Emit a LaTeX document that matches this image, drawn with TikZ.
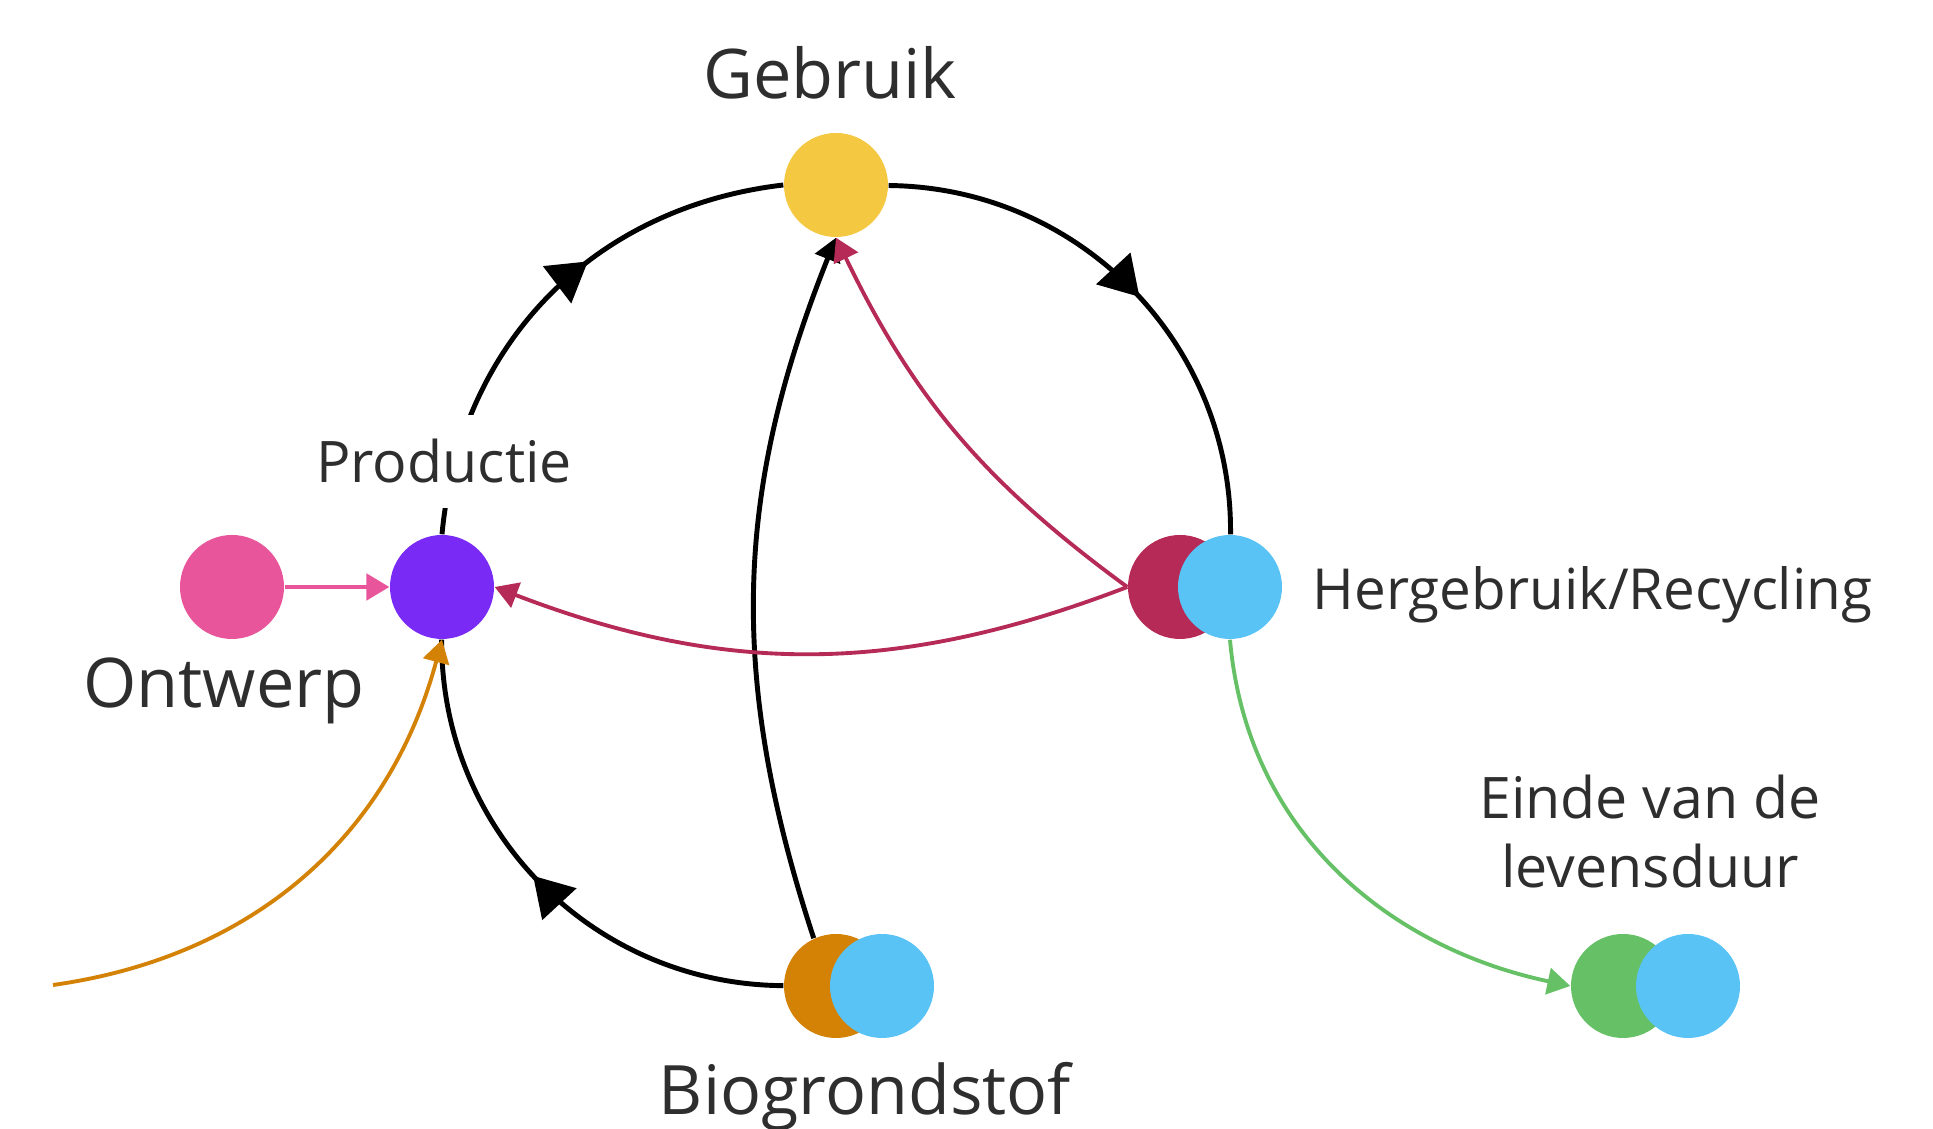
\documentclass[tikz,border=0pt]{standalone}
\usepackage{fontspec}
\setmainfont{Open Sans}
\usetikzlibrary{arrows.meta,decorations.markings,positioning}

\definecolor{geel}{HTML}{F5C842}
\definecolor{paars}{HTML}{7A2AF5}
\definecolor{roze}{HTML}{E8559A}
\definecolor{karmijn}{HTML}{B52A57}
\definecolor{lichtblauw}{HTML}{5AC3F6}
\definecolor{oranje}{HTML}{D38206}
\definecolor{groen}{HTML}{66C166}

\begin{document}
\begin{tikzpicture}
[
	dot/.style={circle,inner sep=0pt,minimum size=1.04cm},
	kring/.style={black,line width=1.4pt},
	dun/.style={line width=1.1pt},
	midarrow/.style={postaction={decorate},decoration={markings,mark=at position #1 with {\arrow{Triangle[length=11pt,width=13pt]}}}},
	tip/.style={-{Triangle[length=6.5pt,width=7.5pt]}},
	lbl/.style={anchor=base,text=black!82,inner sep=0pt}
]

	\useasboundingbox (0,0) rectangle (19.33,11.29);

	% stages
	\node[dot,fill=geel] (gebruik) at (8.36,9.44) {};
	\node[dot,fill=paars] (productie) at (4.42,5.42) {};
	\node[dot,fill=roze] (ontwerp) at (2.32,5.42) {};
	\node[dot,fill=karmijn] (hergebruikR) at (11.80,5.42) {};
	\node[dot,fill=lichtblauw] (hergebruik) at (12.30,5.42) {};
	\node[dot,fill=oranje] (bio) at (8.36,1.43) {};
	\node[dot,fill=lichtblauw] (bioB) at (8.82,1.43) {};
	\node[dot,fill=groen] (einde) at (16.23,1.43) {};
	\node[dot,fill=lichtblauw] (eindeB) at (16.88,1.43) {};

	% cycle
	\draw[kring,midarrow=0.6] (productie.north) to[bend left=39] (gebruik.west);
	\draw[kring,midarrow=0.52] (gebruik) to[bend left=45] (hergebruik);
	\draw[kring,midarrow=0.52] (bio) to[bend left=45] (productie);
	\draw[kring,tip] (bio.115) to[bend left=20] (gebruik.south);

	% reuse
	\draw[karmijn,dun,tip] (hergebruikR.west) to[bend left=14] (gebruik.south);
	\draw[karmijn,dun,tip] (hergebruikR.west) to[bend left=21] (productie.east);

	% in and out
	\coordinate (biobron) at (0.53,1.44);
	\draw[roze,dun,tip] (ontwerp) -- (productie);
	\draw[oranje,dun,tip] (biobron) to[out=8,in=-105] (productie.south);
	\draw[groen,dun,tip] (hergebruik.south) to[out=-85,in=168] (einde.west);

	% labels
	\node[lbl,font=\fontsize{19.5}{23}\selectfont] (tgebruik) at (8.30,10.30) {Gebruik};
	\node[lbl,font=\fontsize{16.3}{20}\selectfont,fill=white,inner xsep=4pt,inner ysep=0.24cm] (tproductie) at (4.44,6.46) {Productie};
	\node[lbl,font=\fontsize{19.5}{23}\selectfont] (tontwerp) at (2.24,4.21) {Ontwerp};
	\node[lbl,anchor=base west,font=\fontsize{16.1}{20}\selectfont] (thergebruik) at (13.12,5.19) {Hergebruik/Recycling};
	\node[lbl,font=\fontsize{16.3}{20}\selectfont] (teinde1) at (16.50,3.10) {Einde van de};
	\node[lbl,font=\fontsize{16.3}{20}\selectfont] (teinde2) at (16.50,2.41) {levensduur};
	\node[lbl,font=\fontsize{19.4}{23}\selectfont] (tbio) at (8.65,0.14) {Biogrondstof};

\end{tikzpicture}
\end{document}
